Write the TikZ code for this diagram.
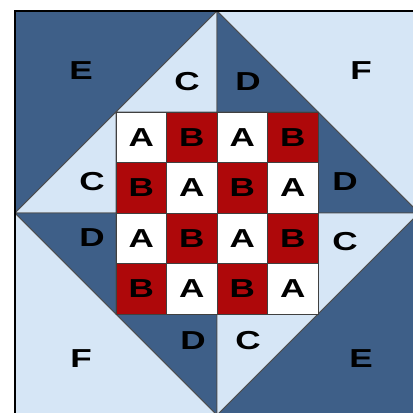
\documentclass[tikz,border=0pt]{standalone}
\usepackage{fontspec}
\newfontfamily\quiltfont{Liberation Sans}[FakeStretch=1.35]
\usetikzlibrary{positioning}
\definecolor{quiltdark}{RGB}{62,95,136}
\definecolor{quiltlight}{RGB}{214,230,246}
\definecolor{quiltred}{RGB}{174,8,10}

\begin{document}
\begin{tikzpicture}[
  x=1pt, y=-1pt,
  lbl/.style={font=\quiltfont\bfseries\fontsize{26}{26}\selectfont, inner sep=0pt},
  hi/.style={fill=quiltdark, draw=black!70, line width=0.8pt},
  lo/.style={fill=quiltlight, draw=black!70, line width=0.8pt},
  cell/.style={lbl, draw=black!75, line width=0.8pt, minimum size=50.5pt},
  ca/.style={cell, fill=white},
  cb/.style={cell, fill=quiltred},
]
\useasboundingbox (0,0) rectangle (413,413);
\clip (0,0) rectangle (413,413);
% Corners
\draw[hi] (15,11)  -- (217,11)  -- (15,213)  -- cycle;
\draw[lo] (217,11) -- (419,11)  -- (419,213) -- cycle;
\draw[lo] (15,213) -- (15,415)  -- (217,415) -- cycle;
\draw[hi] (419,213) -- (419,415) -- (217,415) -- cycle;
% Side triangles
\draw[lo] (217,11)  -- (116,112) -- (217,112) -- cycle;
\draw[hi] (217,11)  -- (318,112) -- (217,112) -- cycle;
\draw[lo] (15,213)  -- (116,112) -- (116,213) -- cycle;
\draw[hi] (15,213)  -- (116,213) -- (116,314) -- cycle;
\draw[hi] (419,213) -- (318,112) -- (318,213) -- cycle;
\draw[lo] (419,213) -- (318,213) -- (318,314) -- cycle;
\draw[hi] (217,415) -- (116,314) -- (217,314) -- cycle;
\draw[lo] (217,415) -- (217,314) -- (318,314) -- cycle;
% Outline
\draw[black, line width=1.5pt] (15,415) -- (15,11) -- (419,11);
% Checkerboard
\node[ca] (a11) at (141.25,137.25) {A}; \node[cb] (b12) at (191.75,137.25) {B};
\node[ca] (a13) at (242.25,137.25) {A}; \node[cb] (b14) at (292.75,137.25) {B};
\node[cb] (b21) at (141.25,187.75) {B}; \node[ca] (a22) at (191.75,187.75) {A};
\node[cb] (b23) at (242.25,187.75) {B}; \node[ca] (a24) at (292.75,187.75) {A};
\node[ca] (a31) at (141.25,238.25) {A}; \node[cb] (b32) at (191.75,238.25) {B};
\node[ca] (a33) at (242.25,238.25) {A}; \node[cb] (b34) at (292.75,238.25) {B};
\node[cb] (b41) at (141.25,288.75) {B}; \node[ca] (a42) at (191.75,288.75) {A};
\node[cb] (b43) at (242.25,288.75) {B}; \node[ca] (a44) at (292.75,288.75) {A};
% Patch letters
\node[lbl] (eTL)    at (81,71)   {E};
\node[lbl] (cTop)   at (187,82)  {C};
\node[lbl] (dTop)   at (248,82)  {D};
\node[lbl] (fTR)    at (361,71)  {F};
\node[lbl] (cLeft)  at (92,182)  {C};
\node[lbl] (dRight) at (345,182) {D};
\node[lbl] (dLeft)  at (92,238)  {D};
\node[lbl] (cRight) at (345,242) {C};
\node[lbl] (dBot)   at (193,341) {D};
\node[lbl] (cBot)   at (248,341) {C};
\node[lbl] (fBL)    at (81,359)  {F};
\node[lbl] (eBR)    at (361,359) {E};
\end{tikzpicture}
\end{document}
